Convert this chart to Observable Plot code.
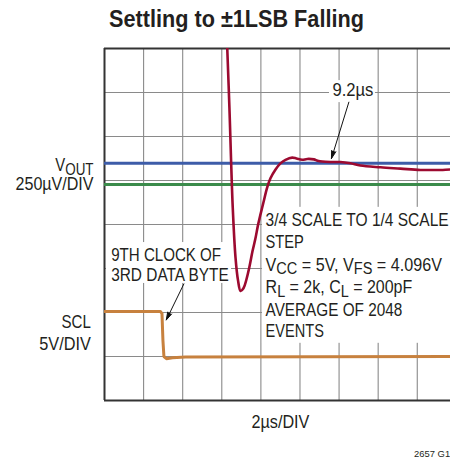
<!DOCTYPE html>
<html>
<head>
<meta charset="utf-8">
<script src="https://cdn.jsdelivr.net/npm/d3@7"></script>
<script src="https://cdn.jsdelivr.net/npm/@observablehq/plot@0.6"></script>
<style>
  html, body { margin: 0; padding: 0; background: #fff; }
  #chart svg { display: block; }
</style>
</head>
<body>
<div id="chart"></div>
<script>
// ---- Data (time in µs, vertical position in screen divisions) ----
const gridX = [2, 4, 6, 8, 10, 12, 14, 16];
const gridY = [1, 2, 3, 4, 5, 6, 7];

// VOUT trace (250µV/DIV), time in µs
const voutTime = [6.22, 6.28, 6.39, 6.48, 6.56, 6.70, 6.83, 6.96, 7.11, 7.26, 7.42, 7.57, 7.72, 7.85, 7.98, 8.13, 8.32, 8.49, 8.75, 9.00, 9.26, 9.60, 9.82, 10.11, 10.37, 10.71, 10.90, 11.14, 11.56, 12.07, 12.58, 13.09, 14.12, 15.14, 16.16, 17.19, 17.70, 18.72];
const voutDiv  = [8.64, 8.00, 6.66, 5.39, 4.39, 3.26, 2.73, 2.49, 2.55, 2.75, 3.05, 3.39, 3.68, 3.98, 4.23, 4.50, 4.84, 5.05, 5.25, 5.39, 5.47, 5.52, 5.50, 5.47, 5.49, 5.48, 5.45, 5.43, 5.42, 5.42, 5.39, 5.34, 5.30, 5.27, 5.24, 5.24, 5.25, 5.25];

// SCL trace (5V/DIV)
const sclTime = [0, 2.86, 2.94, 2.99, 3.04, 3.17, 3.48, 4.14, 17.70, 19.5];
const sclDiv  = [2.02, 2.02, 1.98, 1.36, 1.00, 0.95, 0.97, 0.99, 1.00, 1.00];

// Reference levels
const finalLevel = [5.39];   // blue
const lsbLevel   = [4.91];   // green

// Texts
const titleText = "Settling to ±1LSB Falling";
const rightLines = ["3/4 SCALE TO 1/4 SCALE", "STEP", "VCC = 5V, VFS = 4.096V", "RL = 2k, CL = 200pF", "AVERAGE OF 2048", "EVENTS"];
const leftLines = ["9TH CLOCK OF", "3RD DATA BYTE"];
const sideLabels = ["VOUT", "250µV/DIV", "SCL", "5V/DIV"];
const settleLabel = "9.2µs";
const xLabel = "2µs/DIV";
const figId = "2657 G1";

const xDomain = [0, 17.7];
const yDomain = [0, 8];

// ---- Layout (annotation placement, in data units) ----
const rightY = [3.97, 3.47, 2.95, 2.44, 1.93, 1.44];
const leftY = [3.16, 2.71];
const sideY = [5.21, 4.79, 1.65, 1.14];
const masks = [
  {x1: 8.08, x2: 17.7, y1: 1.30, y2: 4.39},
  {x1: 0.10, x2: 6.50, y1: 2.66, y2: 3.59},
  {x1: 11.51, x2: 13.86, y1: 6.77, y2: 7.27}
];
const arrows = [
  {x1: 12.50, y1: 6.78, x2: 11.61, y2: 5.50},
  {x1: 4.06, y1: 2.65, x2: 3.16, y2: 1.83}
];
// target rendered widths (px) to mimic the condensed face
const targetWidth = {
  "Settling to ±1LSB Falling": 255,
  "3/4 SCALE TO 1/4 SCALE": 183,
  "STEP": 38.3,
  "VCC = 5V, VFS = 4.096V": 177,
  "RL = 2k, CL = 200pF": 146.7,
  "AVERAGE OF 2048": 136.7,
  "EVENTS": 58.3,
  "9TH CLOCK OF": 110,
  "3RD DATA BYTE": 117.6,
  "9.2µs": 41,
  "VOUT": 38.3,
  "250µV/DIV": 78.7,
  "SCL": 29.3,
  "5V/DIV": 52.3,
  "2µs/DIV": 58.6,
  "2657 G1": 36
};

const FONT = "'Liberation Sans', Arial, sans-serif";
const FS = 18.3;
const INK = "#231f20";

const plot = Plot.plot({
  width: 450,
  height: 458,
  marginLeft: 104,
  marginRight: 0,
  marginTop: 48,
  marginBottom: 58,
  x: {domain: xDomain, axis: null},
  y: {domain: yDomain, axis: null},
  style: {fontFamily: FONT, fontSize: FS + "px", background: "white", overflow: "visible"},
  marks: [
    Plot.ruleY(gridY, {stroke: "#8a8a8a", strokeWidth: 1.1}),
    Plot.ruleX(gridX, {stroke: "#8a8a8a", strokeWidth: 1.1}),
    Plot.rect(masks, {x1: "x1", x2: "x2", y1: "y1", y2: "y2", fill: "white"}),
    Plot.ruleX([0], {stroke: "#333", strokeWidth: 2}),
    Plot.ruleY([0, 8], {stroke: "#333", strokeWidth: 2}),
    Plot.ruleY(finalLevel, {stroke: "#3d5ca8", strokeWidth: 3}),
    Plot.ruleY(lsbLevel, {stroke: "#3b8b4b", strokeWidth: 3}),
    Plot.line(sclTime.map((t, i) => ({t, v: sclDiv[i]})), {x: "t", y: "v", stroke: "#c7813e", strokeWidth: 3, clip: true}),
    Plot.line(voutTime.map((t, i) => ({t, v: voutDiv[i]})), {x: "t", y: "v", stroke: "#9c0a30", strokeWidth: 2.6, curve: "catmull-rom", clip: true}),
    Plot.arrow(arrows, {x1: "x1", y1: "y1", x2: "x2", y2: "y2", stroke: "#111", fill: "#111", strokeWidth: 1, headLength: 12, headAngle: 32}),
    Plot.text(rightLines, {x: 8.24, y: (d, i) => rightY[i], text: d => d, textAnchor: "start", lineAnchor: "bottom", fill: INK}),
    Plot.text(leftLines, {x: 0.34, y: (d, i) => leftY[i], text: d => d, textAnchor: "start", lineAnchor: "bottom", fill: INK}),
    Plot.text([settleLabel], {x: 11.66, y: 6.93, text: d => d, textAnchor: "start", lineAnchor: "bottom", fill: INK}),
    Plot.text(sideLabels, {x: (d, i) => i < 2 ? -0.56 : -0.70, y: (d, i) => sideY[i], text: d => d, textAnchor: "end", lineAnchor: "bottom", fill: INK}),
    Plot.text([xLabel], {x: 9.0, y: -0.63, text: d => d, textAnchor: "middle", lineAnchor: "bottom", fill: INK}),
    Plot.text([figId], {x: 17.68, y: -1.29, text: d => d, textAnchor: "end", lineAnchor: "bottom", fill: INK, fontSize: 9.5}),
    Plot.text([titleText], {x: 6.75, y: 8.48, text: d => d, textAnchor: "middle", lineAnchor: "bottom", fill: INK, fontSize: 23, fontWeight: "bold"})
  ]
});

document.getElementById("chart").appendChild(plot);

// subscripts
const subs = {
  "VOUT": [["V", false], ["OUT", true]],
  "VCC = 5V, VFS = 4.096V": [["V", false], ["CC", true], [" = 5V, V", false], ["FS", true], [" = 4.096V", false]],
  "RL = 2k, CL = 200pF": [["R", false], ["L", true], [" = 2k, C", false], ["L", true], [" = 200pF", false]]
};
d3.select(plot).selectAll("text").each(function() {
  const key = this.textContent;
  const target = targetWidth[key];
  const el = d3.select(this);
  if (key in subs) {
    el.text(null);
    let shifted = false;
    for (const [s, sub] of subs[key]) {
      const ts = el.append("tspan").text(s);
      if (sub && !shifted) { ts.attr("dy", 3.5).attr("font-size", 16.5); shifted = true; }
      else if (sub) { ts.attr("font-size", 16.5); }
      else if (shifted) { ts.attr("dy", -3.5); shifted = false; }
    }
  }
  if (target) {
    const w = this.getBBox().width;
    if (w > 0) {
      const sx = target / w;
      let tr = this.getAttribute("transform") || "";
      const x = this.getAttribute("x"), y = this.getAttribute("y");
      if (x != null || y != null) {
        tr += ` translate(${x || 0},${y || 0})`;
        this.removeAttribute("x");
        this.removeAttribute("y");
      }
      this.setAttribute("transform", `${tr} scale(${sx},1)`);
    }
  }
});
</script>
</body>
</html>
